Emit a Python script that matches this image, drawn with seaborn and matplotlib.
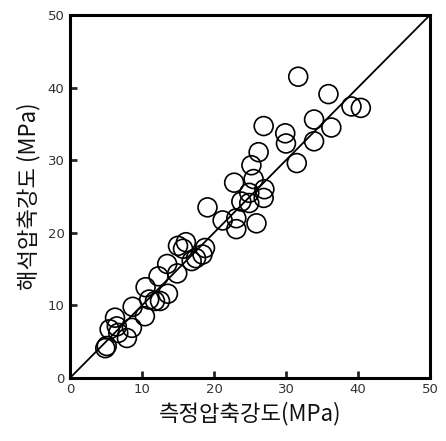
import matplotlib
matplotlib.use("Agg")
import matplotlib.pyplot as plt
import seaborn as sns
import pandas as pd

measured = [31.7, 35.9, 39.1, 40.4, 33.9, 36.3, 26.9, 29.9, 30.0, 33.9,
            31.5, 26.2, 25.2, 25.5, 22.8, 27.0, 26.9, 24.9, 24.9, 23.8,
            19.1, 21.2, 23.1, 23.1, 25.9, 15.0, 16.1, 15.7, 18.75, 18.4,
            16.9, 13.5, 14.9, 12.3, 13.6, 10.5, 11.8, 11.0, 8.7, 10.4,
            8.6, 6.25, 5.5, 6.7, 7.9, 5.1, 4.9, 6.5, 12.5, 17.5]
predicted = [41.5, 39.1, 37.4, 37.2, 35.6, 34.5, 34.7, 33.7, 32.3, 32.6,
             29.6, 31.1, 29.3, 27.4, 26.9, 26.0, 24.8, 25.5, 24.1, 24.3,
             23.5, 21.7, 22.0, 20.5, 21.3, 18.2, 18.7, 17.8, 17.9, 17.0,
             16.1, 15.7, 14.4, 14.0, 11.6, 12.5, 10.6, 10.8, 9.8, 8.5,
             6.9, 8.3, 6.7, 6.2, 5.5, 4.4, 4.1, 7.1, 10.6, 16.5]
ticks = [0, 10, 20, 30, 40, 50]
line_x = [0, 50]
line_y = [0, 50]

df = pd.DataFrame({"measured": measured, "predicted": predicted})

sns.set_style("white")
plt.rcParams['font.family'] = ['Noto Sans CJK KR', 'DejaVu Sans']

fig = plt.figure(figsize=(4.46, 4.41), dpi=100)
ax = fig.add_axes([0.157, 0.143, 0.807, 0.823])

sns.lineplot(x=line_x, y=line_y, ax=ax, color="black", linewidth=1.3)
sns.scatterplot(data=df, x="measured", y="predicted", ax=ax,
                s=185, facecolor="none", edgecolor="black", linewidth=1.2,
                alpha=1.0, zorder=3)
ax.collections[-1].set_facecolor("none")

ax.set_xlim(0, 50)
ax.set_ylim(0, 50)
ax.set_xticks(ticks)
ax.set_yticks(ticks)
ax.set_xticklabels([str(t) for t in ticks], fontsize=9.5, color="#333333",
                   family="DejaVu Sans")
ax.set_yticklabels([str(t) for t in ticks], fontsize=9.5, color="#333333",
                   family="DejaVu Sans")
ax.tick_params(axis="both", direction="in", length=5, width=2,
               bottom=True, left=True, top=False, right=False, pad=4)
for sp in ax.spines.values():
    sp.set_linewidth(2.2)
    sp.set_color("black")
ax.set_xlabel("측정압축강도(MPa)", fontsize=16, labelpad=4, color="#111111")
ax.set_ylabel("해석압축강도 (MPa)", fontsize=16, labelpad=5, color="#111111")

fig.savefig("out.png", dpi=100)
